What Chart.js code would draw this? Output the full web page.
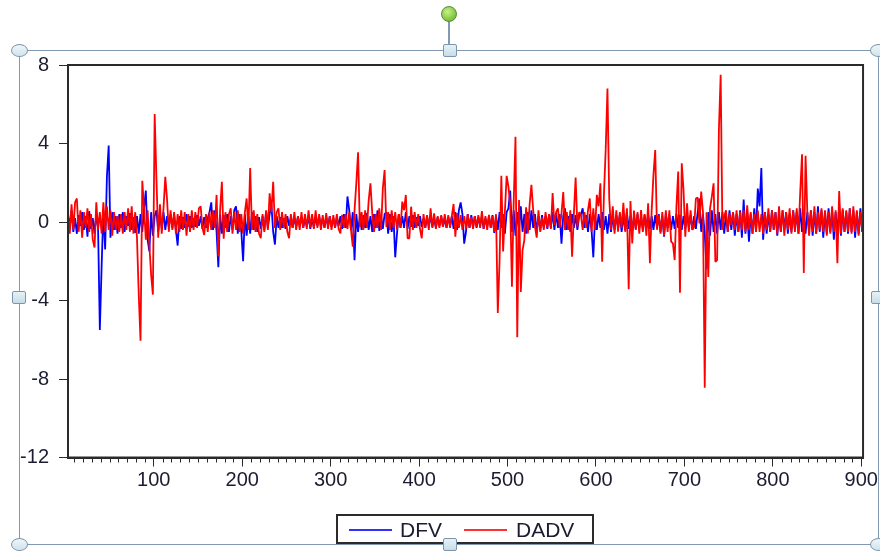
<!DOCTYPE html>
<html>
<head>
<meta charset="utf-8">
<script src="https://cdn.jsdelivr.net/npm/chart.js@4.4.1/dist/chart.umd.min.js"></script>
<style>
  body { margin: 0; background: #fff; }
  #page { position: relative; width: 880px; height: 552px; overflow: hidden; font-family: "Liberation Sans", Arial, sans-serif; }
  #page canvas { position: absolute; left: 0; top: 0; }
  .frame { position: absolute; left: 19px; top: 50px; width: 858px; height: 493px; border: 1.5px solid #8299b4; }
  .stem { position: absolute; left: 448px; top: 20px; width: 1.5px; height: 30px; background: #8299b4; }
  .rot { position: absolute; left: 441px; top: 6px; width: 14px; height: 14px; border-radius: 50%;
         background: radial-gradient(circle at 40% 35%, #c8f08a, #7cc23a 70%); border: 1px solid #5b8c35; }
  .corner { position: absolute; width: 15px; height: 11px; border-radius: 50%;
            background: linear-gradient(#eef7fa, #cfe3ec); border: 1px solid #7e95a9; }
  .side { position: absolute; width: 12px; height: 11px; border-radius: 2px;
          background: linear-gradient(#e6f2f7, #c6dde8); border: 1px solid #7e95a9; }
  .legbox { position: absolute; left: 336px; top: 514px; width: 258px; height: 30px; box-sizing: border-box;
            border: 2px solid #2b2b2b; background: #fff; }
  .legline { position: absolute; top: 529px; width: 43px; height: 2px; }
  .legtext { position: absolute; top: 519px; font-size: 21px; line-height: 21px; color: #1c1c30; }
</style>
</head>
<body>
<div id="page">
  <div class="frame"></div>
  <div class="stem"></div>
  <div class="rot"></div>
  <canvas id="dfvChart" width="880" height="552"></canvas>
  <div class="corner" style="left:11px;top:44px"></div>
  <div class="corner" style="left:870px;top:44px"></div>
  <div class="corner" style="left:11px;top:538px"></div>
  <div class="corner" style="left:870px;top:538px"></div>
  <div class="side" style="left:443px;top:44px"></div>
  <div class="side" style="left:12px;top:291px"></div>
  <div class="side" style="left:871px;top:291px"></div>
  <div class="legbox"></div>
  <div class="side" style="left:443px;top:538px"></div>
  <div class="legline" style="left:349px;background:#3030ff"></div>
  <div class="legtext" style="left:400px">DFV</div>
  <div class="legline" style="left:464px;background:#ff3030"></div>
  <div class="legtext" style="left:516px">DADV</div>
</div>
<script>
// observations 3, 5, 7 ... 901 (every second observation)
const firstObs = 3;
const obsStep = 2;

const dfv = [
  0.45, -0.3, 0.6, -0.5, 0.2, -0.6, 0.35, -0.2, 0.5, -0.4,
  0.3, -0.75, 0.55, -0.35, 0.2, -0.6, 0.4, -0.3, -5.5, -2.3,
  0.6, -1.4, 2.3, 3.9, -0.8, 0.5, -0.4, 0.3, -0.6, 0.4,
  -0.3, 0.5, -0.5, 0.3, -0.2, 0.45, -0.4, 0.25, -0.55, 0.3,
  -0.6, 0.4, -0.5, 0.7, 1.6, -0.9, -1.5, 0.5, -0.7, 0.3,
  0.6, -0.5, 0.4, -0.3, 0.5, -0.4, 0.3, -0.25, 0.4, -0.3,
  0.35, -0.4, -1.2, 0.3, -0.35, 0.25, -0.3, 0.4, -0.25, 0.3,
  -0.3, 0.2, -0.25, 0.35, -0.2, 0.3, -0.35, 0.25, -0.3, 0.2,
  0.5, 1.0, -0.4, 0.6, -0.5, -2.3, 0.4, -0.6, 0.35, -0.3,
  0.4, -0.5, 0.3, -0.4, 0.6, 0.8, -0.6, 0.4, -0.5, -2.0,
  0.4, -0.7, 0.3, -0.6, 0.5, -0.4, 0.3, -0.5, 0.25, -0.35,
  0.3, -0.4, 0.5, -0.3, 0.4, 0.87, -0.5, -1.15, 0.3, -0.3,
  0.25, -0.3, 0.2, -0.35, 0.3, -0.2, 0.25, -0.3, 0.2, -0.25,
  0.3, -0.2, 0.25, -0.3, 0.2, -0.25, 0.3, -0.35, 0.2, -0.3,
  0.25, -0.2, 0.3, -0.25, 0.2, -0.3, 0.25, -0.2, 0.3, -0.25,
  0.2, -0.3, 0.25, -0.2, 0.3, -0.35, 0.4, -0.3, 1.3, 0.6,
  -0.4, 0.5, -1.95, 0.4, -0.5, 0.3, -0.4, 0.35, -0.3, 0.45,
  -0.4, 0.3, -0.5, 0.4, -0.3, 0.6, -0.45, 0.3, -0.35, 0.4,
  0.5, -0.6, 0.4, -0.5, 0.3, -1.8, -0.6, 0.4, -0.3, 0.3,
  -0.3, 0.5, -0.35, 0.3, -0.25, 0.35, -0.3, 0.25, -0.2, 0.3,
  -0.25, 0.2, -0.3, 0.25, -0.2, 0.3, -0.25, 0.2, -0.3, 0.25,
  -0.2, 0.3, -0.25, 0.2, -0.3, 0.25, -0.2, 0.3, -0.35, 0.5,
  -0.4, 0.6, 1.0, 0.4, -1.1, -0.5, 0.4, -0.3, 0.35, -0.25,
  0.3, -0.3, 0.25, -0.2, 0.3, -0.35, 0.2, -0.25, 0.3, -0.3,
  0.35, -0.56, 0.3, -0.4, 0.5, -0.3, 0.4, -0.6, 0.5, 0.7,
  1.6, -0.5, 0.6, -0.7, 0.5, -0.4, 0.8, -0.5, 0.4, -0.6,
  0.5, -0.4, 0.6, -0.3, 0.4, -0.5, 0.3, -0.4, 0.35, -0.3,
  0.3, -0.35, 0.4, -0.3, 0.5, -0.4, 0.45, -0.3, 0.4, -1.1,
  0.3, 0.7, -0.4, 0.3, -0.5, 0.4, -0.3, 0.35, -0.4, 0.3,
  0.4, 0.7, -0.3, 0.35, -0.5, 0.4, -0.4, -1.8, 0.3, -0.4,
  0.4, -0.3, 0.5, -0.4, 0.3, -0.6, 0.4, -0.5, 0.3, -0.4,
  0.35, -0.3, 0.4, -0.5, 0.3, -0.4, 0.5, -0.35, 0.3, -0.4,
  0.3, -0.35, 0.4, -0.3, 0.25, -0.4, 0.35, -0.3, 0.4, -0.35,
  0.3, -0.4, 0.35, -0.3, 0.4, -0.5, 0.3, -0.75, 0.4, -0.3,
  0.35, -0.4, 0.3, -0.35, 0.4, -0.3, 0.35, -0.4, 0.3, -0.35,
  0.4, -0.3, 0.35, -0.4, 0.3, -0.35, 0.5, 1.2, -0.5, 0.4,
  -0.6, -2.4, 0.5, -0.7, 0.6, -0.5, 0.4, -0.6, 0.5, -0.4,
  0.5, -0.6, 0.4, -0.5, 0.6, -0.4, 0.5, -0.7, 0.4, -0.5,
  0.6, -0.8, 1.15, -0.6, 0.5, -1.0, 0.4, -0.6, 0.7, -0.5,
  1.7, 0.8, 2.75, -0.9, 0.5, -0.6, 0.4, -0.5, 0.6, -0.4,
  0.5, -0.7, 0.4, -0.5, 0.6, -0.4, 0.5, -0.6, 0.4, -0.5,
  0.6, -0.4, 0.5, -0.6, 0.7, -0.5, 0.4, -0.6, 0.5, -0.4,
  0.6, -0.7, 0.5, -0.6, 0.8, -0.5, 0.6, -0.8, 0.5, -0.6,
  0.7, -0.5, 0.6, -0.9, 0.5, -0.6, 0.8, -0.7, 0.6, -0.5,
  0.5, -0.6, 0.7, -0.5, 0.6, -0.8, 0.5, -0.6, 0.7, -0.5
];

const dadv = [
  0.3, -0.6, 0.9, -0.4, 1.0, 1.2, -0.5, 0.6, -0.8, 0.5,
  -0.3, 0.7, -0.5, 0.4, -0.9, -1.3, 1.0, -0.4, 0.5, -0.6,
  1.0, -0.5, 0.8, -0.4, 0.6, -0.7, 0.5, -0.4, 0.3, -0.5,
  0.4, -0.6, 0.5, -0.4, 0.7, -0.5, 0.8, -0.6, 0.5, -0.8,
  -3.7, -6.05, 2.1, 0.7, -0.9, 0.6, -1.2, -2.7, -3.7, 5.5,
  2.2, -0.8, 0.9, -0.6, 0.7, 2.3, 1.15, -0.5, 0.6, -0.4,
  0.5, -0.6, 0.4, -0.5, 0.6, -0.4, 0.5, -0.7, 0.4, -0.5,
  0.6, -0.4, 0.5, -0.3, 0.7, 0.8, -0.3, -0.66, 0.4, -0.5,
  0.5, -0.4, 0.6, -0.3, 1.38, -1.75, 0.6, 2.05, -0.85, 0.5,
  -0.5, 0.4, 0.7, -0.6, 0.5, -0.4, 0.6, -0.5, 0.4, -0.6,
  0.5, 1.2, -0.4, 2.75, -0.4, 0.6, -0.5, 0.4, -0.6, -0.83,
  0.4, -0.5, 0.6, -0.4, 1.46, 0.5, 2.05, -0.3, 0.5, 0.7,
  -0.4, 0.5, -0.3, 0.4, -0.5, -0.83, 0.4, -0.3, 0.5, -0.4,
  0.3, -0.4, 0.5, -0.3, 0.4, -0.35, 0.6, -0.3, 0.4, -0.35,
  0.6, -0.3, 0.4, -0.4, 0.35, -0.3, 0.45, -0.35, 0.3, -0.4,
  0.35, -0.3, 0.4, -0.35, -0.58, 0.36, -0.3, 0.4, -0.35, 0.5,
  -0.4, -1.26, 0.6, 1.97, 3.55, -0.25, 0.5, -0.4, 0.6, -0.3,
  1.1, 1.97, 0.45, -0.5, 0.4, -0.3, 0.7, -0.4, 1.72, 2.65,
  -0.25, 0.5, -0.4, 0.6, -0.3, 0.5, -0.4, 0.4, -0.3, 1.04,
  0.6, 1.38, -0.83, -0.83, 0.78, -0.4, 0.5, -0.3, 0.4, -0.35,
  -0.83, 0.4, -0.3, 0.35, -0.4, 0.7, -0.3, 0.44, -0.35, 0.3,
  -0.3, 0.35, -0.25, 0.4, -0.3, 0.35, -0.3, 0.3, 0.92, -0.75,
  0.45, -0.3, 0.35, -0.4, 0.3, -0.35, 0.4, -0.3, 0.25, -0.35,
  0.3, -0.25, 0.35, -0.3, 0.56, -0.35, 0.3, -0.4, 0.36, -0.3,
  0.3, -0.5, 0.4, -4.64, -2.0, 2.35, -1.5, 0.52, 2.35, 1.8,
  0.9, -3.3, 1.04, 4.34, -5.87, 1.12, -3.57, -1.43, -0.92, 0.75,
  -0.58, 0.9, 1.89, 0.61, -0.24, -0.8, 0.6, -0.5, 0.24, -0.4,
  0.5, -0.3, 0.4, -0.35, 1.48, -0.15, 0.5, 0.7, -0.3, 0.4,
  1.53, -0.41, 0.5, -0.4, 0.6, -1.77, 0.4, 2.26, -0.24, 0.5,
  0.36, -0.4, 0.5, -0.3, 0.6, 1.2, -0.5, 0.7, -0.4, 1.38,
  0.8, 1.97, -2.03, 1.38, 3.7, 6.8, 1.2, -0.4, 0.8, -0.6,
  0.6, -0.49, 0.5, -0.3, 0.98, -0.5, 0.7, -3.42, 1.07, -1.09,
  0.58, -0.4, 0.5, -0.6, 0.61, -0.5, 0.4, -0.7, 0.95, -2.1,
  0.6, 2.4, 3.67, -0.4, 0.36, -0.6, 0.5, -0.7, 0.6, -0.5,
  0.6, -1.0, -1.09, -1.94, 0.8, 2.57, -3.6, 2.99, 1.63, -0.75,
  0.95, -0.5, 0.6, -0.4, -0.24, 1.2, 1.25, -0.07, 1.55, 0.5,
  -8.45, 0.5, -2.8, 0.7, 1.29, 1.97, -2.03, -1.94, 4.69, 7.5,
  -0.4, 0.27, 0.6, -0.5, 0.44, -0.15, 0.5, -0.4, 0.6, -0.5,
  0.5, -0.4, 0.6, -0.5, 0.85, -0.4, 0.5, -0.6, 0.4, -0.5,
  0.6, -0.5, 0.4, -0.6, 0.5, -0.4, 0.7, -0.5, 0.6, -0.4,
  0.5, -0.6, 0.8, -0.5, 0.6, -0.7, 0.5, -0.4, 0.7, -0.6,
  0.6, -0.5, 0.7, -0.6, 1.55, 3.45, -2.6, 3.38, 0.5, -0.7,
  0.6, -0.5, 0.8, -0.6, 0.5, -0.4, 0.7, -0.5, 0.6, -0.7,
  0.5, -0.6, 0.8, -0.5, 0.6, -2.1, 1.58, -0.6, 0.7, -0.5,
  0.6, -0.5, 0.7, -0.6, 0.8, -0.5, 0.6, -0.7, 0.5, -0.4
];

const xTicks = [100, 200, 300, 400, 500, 600, 700, 800, 900];
const yTicks = [-12, -8, -4, 0, 4, 8];

const obs = dfv.map((v, i) => firstObs + i * obsStep);

const tickFont = { family: "'Liberation Sans', Arial, sans-serif", size: 20 };

// plot box + small ticks every 10 obs
const frameBox = {
  id: "frameBox",
  afterDraw(chart) {
    const { ctx, chartArea: a } = chart;
    const xs = chart.scales.x;
    ctx.save();
    ctx.strokeStyle = "#2a2a2a";
    ctx.lineWidth = 1;
    for (let v = 10; v < 910; v += 10) {
      if (v % 100 === 0 || v > xs.max) continue;
      const px = Math.round(xs.getPixelForValue(v)) + 0.5;
      ctx.beginPath();
      ctx.moveTo(px, a.bottom);
      ctx.lineTo(px, a.bottom + 5);
      ctx.stroke();
    }
    ctx.lineWidth = 2;
    ctx.strokeRect(a.left, a.top, a.right - a.left, a.bottom - a.top);
    ctx.restore();
  }
};

new Chart(document.getElementById("dfvChart"), {
  type: "line",
  data: {
    labels: obs,
    datasets: [
      { label: "DFV", data: dfv, borderColor: "#0000ff", borderWidth: 1.8, order: 1 },
      { label: "DADV", data: dadv, borderColor: "#ff0000", borderWidth: 1.8, order: 0 }
    ]
  },
  options: {
    responsive: false,
    animation: false,
    layout: { padding: { top: 65, right: 16.5, bottom: 54.5, left: 0 } },
    elements: { point: { radius: 0 }, line: { tension: 0, borderJoinStyle: "bevel" } },
    plugins: { legend: { display: false }, tooltip: { enabled: false } },
    scales: {
      x: {
        type: "linear",
        min: 3,
        max: 902,
        afterBuildTicks: s => { s.ticks = xTicks.map(v => ({ value: v })); },
        afterFit: s => { s.height = 40; },
        grid: { drawOnChartArea: false, tickLength: 9, color: "#2a2a2a", tickWidth: 1 },
        border: { color: "#2a2a2a", width: 2 },
        ticks: { autoSkip: false, maxRotation: 0, padding: 2, color: "#1c1c30", font: tickFont }
      },
      y: {
        min: -12,
        max: 8,
        afterBuildTicks: s => { s.ticks = yTicks.map(v => ({ value: v })); },
        afterFit: s => { s.width = 68; },
        grid: { drawOnChartArea: false, tickLength: 9, color: "#2a2a2a", tickWidth: 1 },
        border: { color: "#2a2a2a", width: 2 },
        ticks: { padding: 10, color: "#1c1c30", font: tickFont }
      }
    }
  },
  plugins: [frameBox]
});
</script>
</body>
</html>
